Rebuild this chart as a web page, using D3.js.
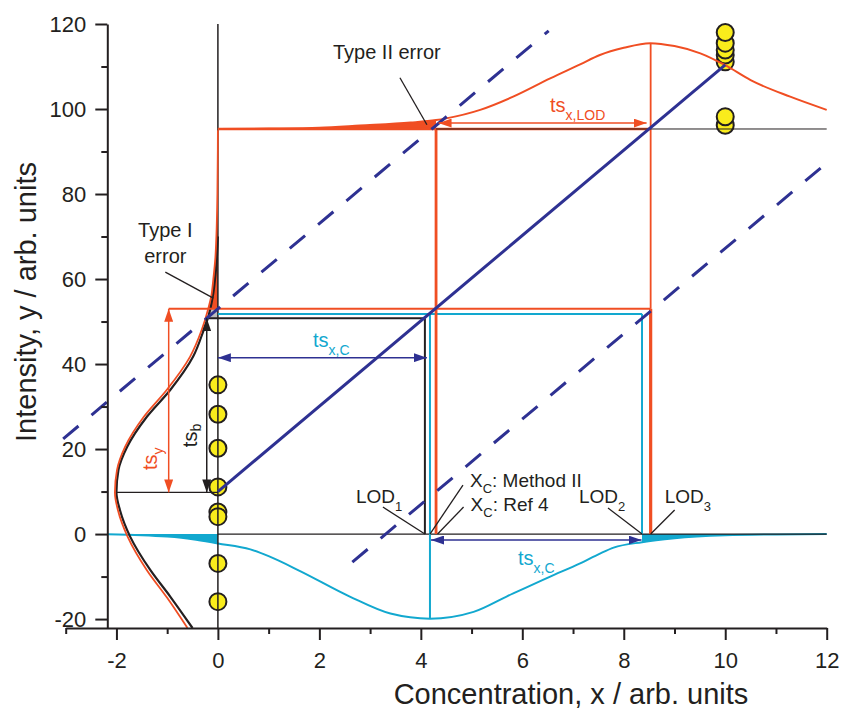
<!DOCTYPE html>
<html>
<head>
<meta charset="utf-8">
<script src="https://cdn.jsdelivr.net/npm/d3@7"></script>
<style>
  body { margin: 0; background: #fff; }
  text { font-family: "Liberation Sans", Arial, sans-serif; }
</style>
</head>
<body>
<div id="chart"></div>
<script>
// axis ticks
var xMajor = [-2, 0, 2, 4, 6, 8, 10, 12];
var xMinor = [-3, -1, 1, 3, 5, 7, 9, 11];
var yMajor = [-20, 0, 20, 40, 60, 80, 100, 120];
var yMinor = [-10, 10, 30, 50, 70, 90, 110];

// measured responses
var blankY = [35.1, 28.2, 20.2, 11.1, 5.2, 4.1, -6.9, -15.9];   // at x = 0
var highY = [96.2, 98.2, 111.1, 112.7, 113.9, 115.5, 118.0];    // at x = 10

// calibration line and its +/- limits
var calibLine = [[0, 10.0], [10, 110.4]];
var upperDash = [[-3.05, 22.4], [6.52, 118.4]];
var lowerDash = [[2.65, -6.6], [12, 87.3]];

// distributions (x, y)
var blankRed = [[-0.6, -22.1], [-1.0, -15], [-1.4, -8.5], [-1.78, -0.6], [-1.97, 5.6], [-2.03, 9.8], [-1.99, 15],
  [-1.83, 20.5], [-1.46, 27.6], [-1.01, 33.9], [-0.55, 41.7], [-0.32, 48], [-0.19, 53], [-0.13, 56], [-0.09, 60],
  [-0.05, 65], [-0.03, 70], [-0.01, 80], [0, 95]];
var blankBlack = [[-0.5, -22.1], [-0.94, -14.7], [-1.33, -8.5], [-1.73, -0.6], [-1.93, 5.6], [-2.0, 9.8], [-1.96, 15.1],
  [-1.79, 20.5], [-1.40, 27.6], [-0.94, 33.9], [-0.49, 41.7], [-0.28, 48], [-0.19, 51.1], [-0.1, 56], [-0.04, 62], [0, 70]];
var lodCurve = [[0, 95.3], [1, 95.4], [2, 95.6], [2.8, 96.1], [3.8, 96.8], [4.3, 97.4], [4.5, 97.8], [5.17, 99.8],
  [5.82, 102.9], [6.55, 107.2], [7.14, 110.5], [7.53, 112.7], [8, 114.4], [8.52, 115.5], [9, 114.8], [9.51, 113.1],
  [10, 110.3], [10.5, 106.8], [11.28, 102.9], [12, 99.8]];
var xcCurve = [[-2.18, -0.05], [-1.5, -0.25], [-1, -0.6], [-0.5, -1.2], [0, -2.2], [0.64, -3.6], [1, -5.2], [1.62, -8.7],
  [2.6, -14.7], [3.4, -18.7], [4.18, -19.9], [5.04, -18.3], [5.69, -14.7], [6.55, -10], [7.14, -6.9], [7.53, -4.6],
  [7.8, -3.2], [8.36, -1.9], [9, -1.0], [10, -0.3], [11, -0.08], [12, 0]];

// levels
var yB = 9.8, yCblack = 50.8, yCcyan = 51.8, yCred = 53.0, yLOD = 95.3, yPeak = 115.5;
var xLOD1 = 4.08, xC2 = 4.18, xC4 = 4.3, xLOD2 = 8.36, xLOD3 = 8.53;

var RED = "#f04e23", CYAN = "#12a8cf", NAVY = "#2e3192", INK = "#231f20";

var width = 841, height = 709;
var svg = d3.select("#chart").append("svg").attr("width", width).attr("height", height);

var x = d3.scaleLinear().domain([-3, 12]).range([65.7, 826.7]);
var y = d3.scaleLinear().domain([-22.1, 120]).range([628, 24]);

var defs = svg.append("defs");
function marker(id, color) {
  defs.append("marker").attr("id", id)
    .attr("viewBox", "0 0 10 10").attr("refX", 10).attr("refY", 5)
    .attr("markerUnits", "userSpaceOnUse").attr("markerWidth", 13).attr("markerHeight", 9)
    .attr("preserveAspectRatio", "none").attr("orient", "auto-start-reverse")
    .append("path").attr("d", "M0,0L10,5L0,10z").attr("fill", color);
}
marker("aRed", RED); marker("aInk", INK); marker("aNavy", NAVY);

function seg(x1, y1, x2, y2, color, w, arrow) {
  var l = svg.append("line")
    .attr("x1", x(x1)).attr("y1", y(y1)).attr("x2", x(x2)).attr("y2", y(y2))
    .attr("stroke", color).attr("stroke-width", w);
  if (arrow) l.attr("marker-start", "url(#" + arrow + ")").attr("marker-end", "url(#" + arrow + ")");
  return l;
}

// fills
var cyanArea = d3.area().x(function (d) { return x(d[0]); }).y0(y(0)).y1(function (d) { return y(d[1]); }).curve(d3.curveMonotoneX);
svg.append("path").datum(xcCurve.filter(function (d) { return d[0] <= 0; })).attr("d", cyanArea).attr("fill", CYAN);
svg.append("path").datum(xcCurve.filter(function (d) { return d[0] >= xLOD2; })).attr("d", cyanArea).attr("fill", CYAN);

svg.append("path").datum(lodCurve.filter(function (d) { return d[0] <= xC4; }))
  .attr("d", d3.area().x(function (d) { return x(d[0]); }).y0(y(yLOD)).y1(function (d) { return y(d[1]); }).curve(d3.curveMonotoneX))
  .attr("fill", RED);

svg.append("path").datum(blankRed.filter(function (d) { return d[1] >= yCred; }))
  .attr("d", d3.area().y(function (d) { return y(d[1]); }).x0(x(0)).x1(function (d) { return x(d[0]); }).curve(d3.curveMonotoneY))
  .attr("fill", RED);

svg.append("rect").attr("x", x(-0.19)).attr("y", y(yCred)).attr("width", x(0) - x(-0.19))
  .attr("height", y(yCblack) - y(yCred)).attr("fill", "#bdbdbd");

// data points
var pts = blankY.map(function (v) { return [0, v]; }).concat(highY.map(function (v) { return [10, v]; }));
svg.selectAll("circle.pt").data(pts).enter().append("circle").attr("class", "pt")
  .attr("cx", function (d) { return x(d[0]); }).attr("cy", function (d) { return y(d[1]); })
  .attr("r", 8.5).attr("fill", "#f9ec1c").attr("stroke", INK).attr("stroke-width", 2);

// curves
var lineX = d3.line().x(function (d) { return x(d[0]); }).y(function (d) { return y(d[1]); }).curve(d3.curveMonotoneX);
var lineY = d3.line().x(function (d) { return x(d[0]); }).y(function (d) { return y(d[1]); }).curve(d3.curveMonotoneY);
svg.append("path").datum(xcCurve).attr("d", lineX).attr("fill", "none").attr("stroke", CYAN).attr("stroke-width", 2);

// black guides
seg(0, -22.1, 0, 120, INK, 1.5);
seg(0, 0, 12, 0, INK, 1.3);
seg(-2.0, yB, 0, yB, INK, 1.2);
seg(-0.19, yCblack, xLOD1, yCblack, INK, 2);
seg(xLOD1, yCblack, xLOD1, 0, INK, 2);

svg.append("path").datum(blankBlack).attr("d", lineY).attr("fill", "none").attr("stroke", INK).attr("stroke-width", 2.2);
svg.append("path").datum(blankRed).attr("d", lineY).attr("fill", "none").attr("stroke", RED).attr("stroke-width", 1.8);

// cyan guides
seg(0, yCcyan, xLOD2, yCcyan, CYAN, 2);
seg(xC2, yCcyan, xC2, -19.9, CYAN, 2);
seg(xLOD2, yCcyan, xLOD2, 0, CYAN, 2);

// red guides
seg(-0.97, yCred, xLOD3, yCred, RED, 2);
seg(xC4, yLOD, xC4, 0, RED, 2.8);
seg(xLOD3, yCred, xLOD3, 0, RED, 3.2);
seg(xLOD3, yPeak, xLOD3, yCred, RED, 1.8);
seg(0, yLOD, xLOD3, yLOD, RED, 2.6);
seg(xC4, yLOD, 12, yLOD, INK, 1);
svg.append("path").datum(lodCurve).attr("d", lineX).attr("fill", "none").attr("stroke", RED).attr("stroke-width", 2);

// calibration
var straight = d3.line().x(function (d) { return x(d[0]); }).y(function (d) { return y(d[1]); });
svg.append("path").datum(calibLine).attr("d", straight).attr("stroke", NAVY).attr("stroke-width", 3);
[upperDash, lowerDash].forEach(function (l) {
  svg.append("path").datum(l).attr("d", straight)
    .attr("stroke", NAVY).attr("stroke-width", 3).attr("stroke-dasharray", "20,17");
});

// arrows
seg(-0.97, yB, -0.97, yCred, RED, 1.5, "aRed");
seg(-0.22, yB, -0.22, yCblack, INK, 1.5, "aInk");
seg(0, 41.5, 4.12, 41.5, NAVY, 1.5, "aNavy");
seg(4.2, -1.4, 8.35, -1.4, NAVY, 1.5, "aNavy");
seg(4.35, 96.7, 8.45, 96.7, RED, 1.5, "aRed");

// axes
var fmt = function (d) { return String(d); };
var gx = svg.append("g").attr("transform", "translate(0," + y(-22.1) + ")");
gx.call(d3.axisBottom(x).tickValues(xMajor).tickFormat(fmt).tickSize(12).tickPadding(12).tickSizeOuter(0));
gx.append("g").call(d3.axisBottom(x).tickValues(xMinor).tickSize(6).tickFormat("").tickSizeOuter(0))
  .select(".domain").remove();
var gy = svg.append("g").attr("transform", "translate(" + x(-2.18) + ",0)");
gy.call(d3.axisLeft(y).tickValues(yMajor).tickFormat(fmt).tickSize(12).tickPadding(9).tickSizeOuter(0));
gy.append("g").call(d3.axisLeft(y).tickValues(yMinor).tickSize(6).tickFormat("").tickSizeOuter(0))
  .select(".domain").remove();
svg.selectAll(".domain, .tick line").attr("stroke", INK).attr("stroke-width", 2);
svg.selectAll(".tick text").attr("font-size", 22).attr("fill", INK)
  .style("font-family", "'Liberation Sans', Arial, sans-serif");

svg.append("text").attr("x", 571).attr("y", 704).attr("text-anchor", "middle")
  .attr("font-size", 29).attr("fill", INK).text("Concentration, x / arb. units");
svg.append("text").attr("transform", "translate(36,302) rotate(-90)").attr("text-anchor", "middle")
  .attr("font-size", 29).attr("fill", INK).text("Intensity, y / arb. units");

// annotations: anchor in data units, leader start and text as pixel offsets
function leader(ax, ay, dx, dy) {
  svg.append("line").attr("x1", x(ax) + dx).attr("y1", y(ay) + dy).attr("x2", x(ax)).attr("y2", y(ay))
    .attr("stroke", INK).attr("stroke-width", 1.3);
}
function note(ax, ay, dx, dy, txt, anchor) {
  svg.append("text").attr("x", x(ax) + dx).attr("y", y(ay) + dy).attr("font-size", 20).attr("fill", INK)
    .attr("text-anchor", anchor || "start").text(txt);
}
leader(4.12, 96.3, -27, -47);
note(4.12, 96.3, -94, -66, "Type II error");
leader(-0.09, 55.5, -48, -26);
note(-0.09, 55.5, -48, -61, "Type I", "middle");
note(-0.09, 55.5, -48, -35, "error", "middle");

function lodLabel(ax, dx, n) {
  var t = svg.append("text").attr("x", x(ax) + dx).attr("y", y(0) - 31).attr("font-size", 19).attr("fill", INK);
  t.append("tspan").text("LOD");
  t.append("tspan").attr("dy", 8).attr("font-size", 13).text(n);
}
function xcLabel(ax, dx, dy, rest) {
  var t = svg.append("text").attr("x", x(ax) + dx).attr("y", y(0) + dy).attr("font-size", 19).attr("fill", INK);
  t.append("tspan").text("X");
  t.append("tspan").attr("dy", 6).attr("font-size", 13).text("C");
  t.append("tspan").attr("dy", -6).text(rest);
}
leader(xLOD1, 0, -42, -27);
lodLabel(xLOD1, -69, "1");
leader(xC2, 0, 33, -49);
xcLabel(xC2, 40, -47, ": Method II");
leader(xC4 + 0.03, 0, 26, -27);
xcLabel(xC4 + 0.03, 33, -23, ": Ref 4");
leader(xLOD2, 0, -34, -26);
lodLabel(xLOD2, -63, "2");
leader(xLOD3, 0, 24, -24);
lodLabel(xLOD3, 14, "3");

function tsLabel(dx, dy, sub, color) {
  var t = svg.append("text").attr("x", x(dx)).attr("y", y(dy)).attr("font-size", 20).attr("fill", color);
  t.append("tspan").text("ts");
  t.append("tspan").attr("dy", 8).attr("font-size", 14).text(sub);
}
tsLabel(1.875, 43.96, "x,C", CYAN);
tsLabel(5.915, -7.29, "x,C", CYAN);
tsLabel(6.546, 99.21, "x,LOD", RED);

function tsRot(dx, dy, sub, color, off) {
  var t = svg.append("text").attr("transform", "translate(" + x(dx) + "," + y(dy) + ") rotate(-90)")
    .attr("font-size", 20).attr("fill", color);
  t.append("tspan").text("ts");
  t.append("tspan").attr("dy", off).attr("font-size", 14).text(sub);
}
tsRot(-1.2, 15.05, "y", RED, 6);
tsRot(-0.412, 20.45, "b", INK, 4);
</script>
</body>
</html>
